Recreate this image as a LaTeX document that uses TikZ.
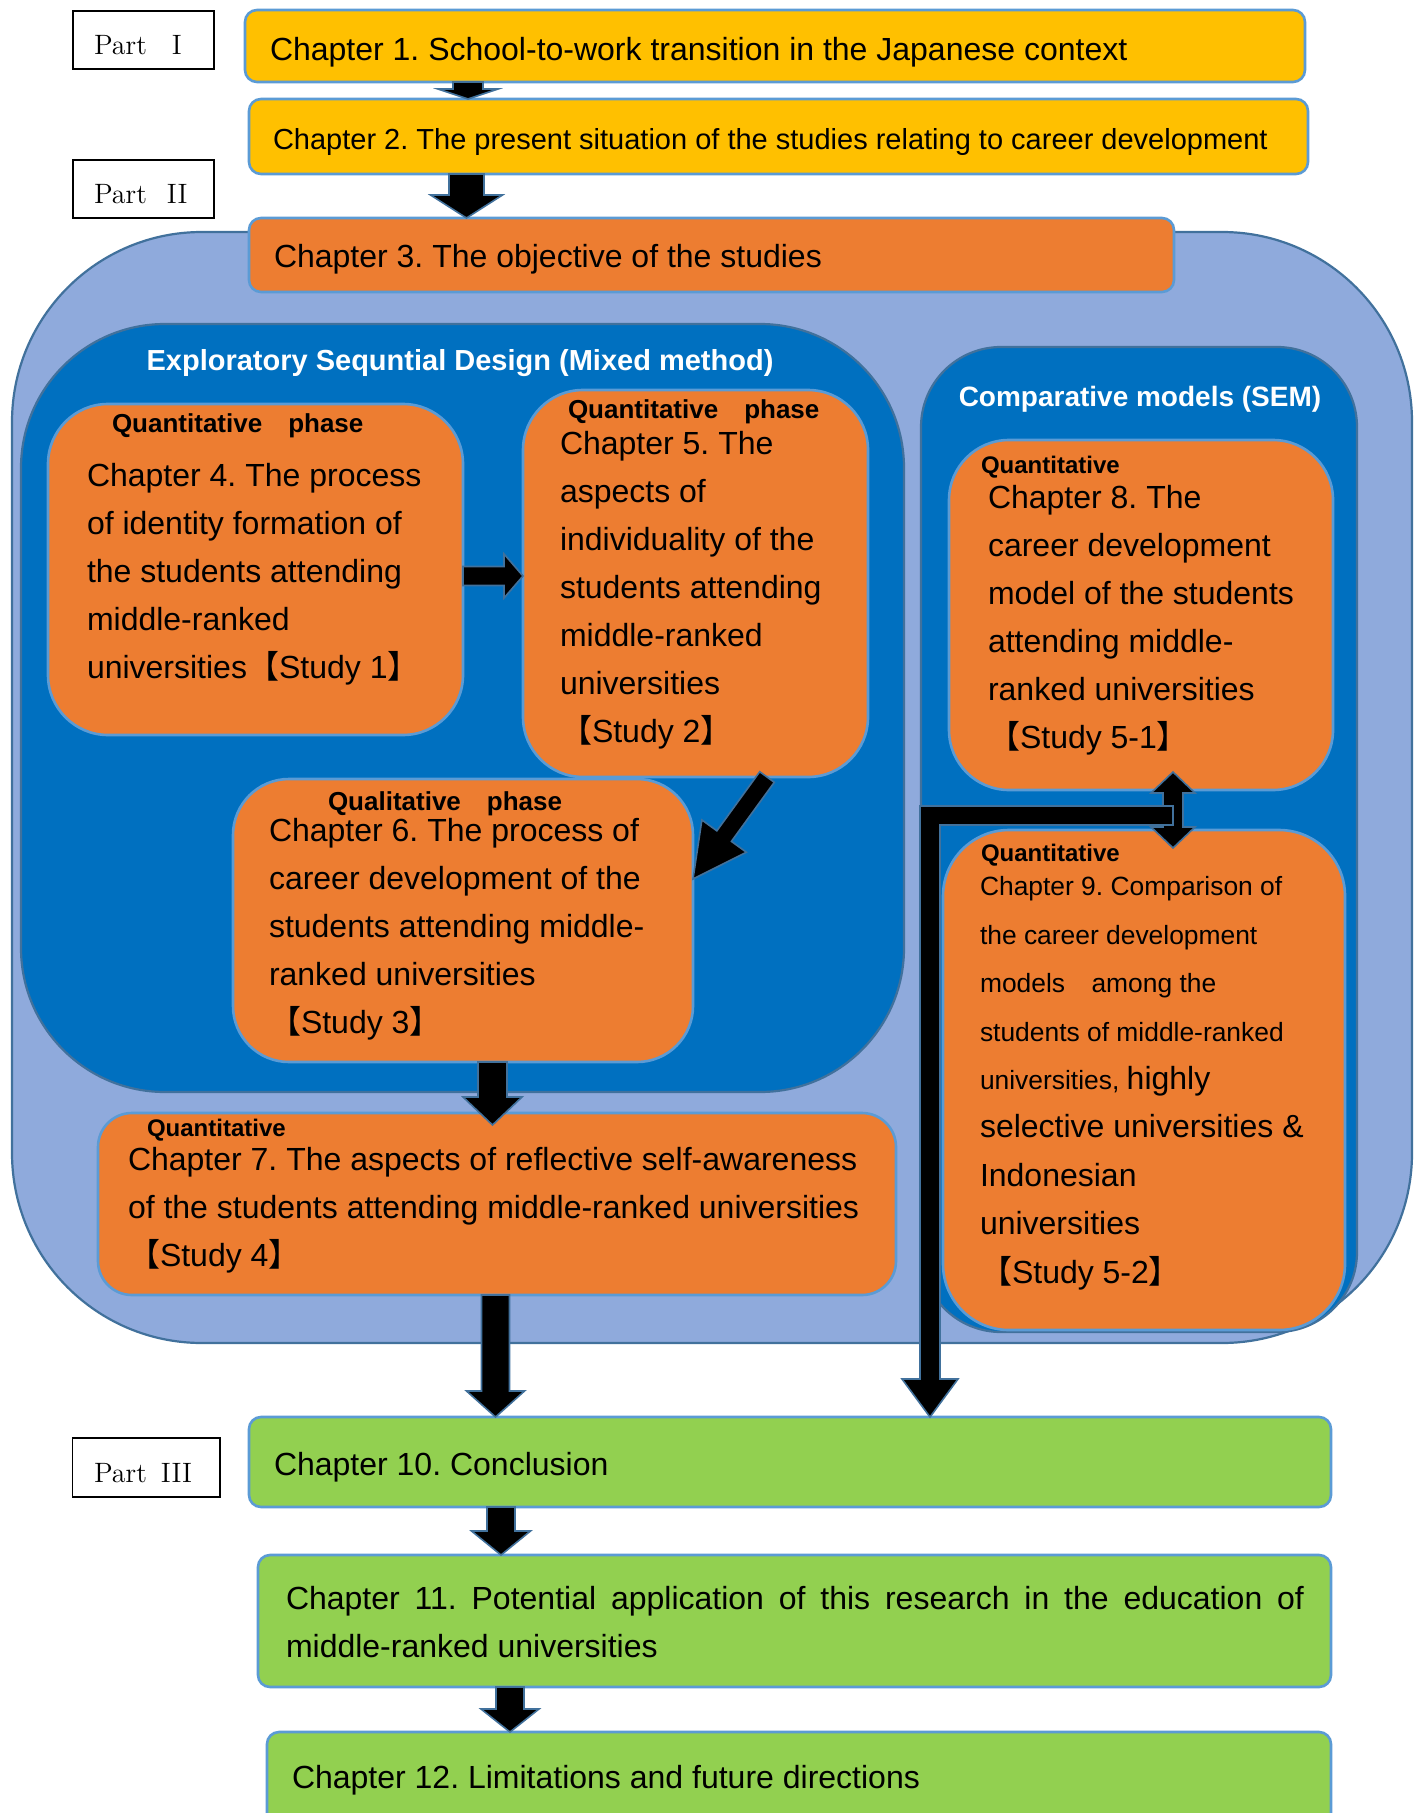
\documentclass[tikz,border=0pt]{standalone}
\usepackage{fontspec}
\newfontfamily\arial{Liberation Sans}
\newfontfamily\cjk{Noto Sans CJK JP}
\usetikzlibrary{calc}
\frenchspacing
\definecolor{cyel}{HTML}{FFC000}
\definecolor{corg}{HTML}{ED7D31}
\definecolor{cgrn}{HTML}{92D050}
\definecolor{cbord}{HTML}{5B9BD5}
\definecolor{cbg}{HTML}{8FAADC}
\definecolor{cdark}{HTML}{0070C0}
\definecolor{cedge}{HTML}{41719C}
\newcommand{\lbk}{{\cjk 【}}
\newcommand{\rbk}{{\cjk 】}}
\newcommand{\fs}[2]{\fontsize{#1pt}{#2pt}\selectfont}
% box node: name, x1, y1, x2, y2, radius(pt), style
\newcommand{\boxnode}[7]{%
  \node[#7, rounded corners=#6pt, minimum width={(#4-#2)*0.5pt}, minimum height={(#5-#3)*0.5pt}] (#1) at ({(#2+#4)/2},{(#3+#5)/2}) {};}
% block arrow: start, tip, shaft half width, head half width, head length
\newcommand{\barrow}[5]{%
  \coordinate (S) at #1; \coordinate (T) at #2;
  \coordinate (B) at ($(T)!#5!(S)$);
  \draw[arr] ($(S)!#3!90:(T)$) -- ($(B)!#3!90:(T)$) -- ($(B)!#4!90:(T)$) -- (T) -- ($(B)!#4!-90:(T)$) -- ($(B)!#3!-90:(T)$) -- ($(S)!#3!-90:(T)$) -- cycle;}
% double block arrow: tip1, tip2, shaft half, head half, head length
\newcommand{\dbarrow}[5]{%
  \coordinate (S) at #1; \coordinate (T) at #2;
  \coordinate (B1) at ($(S)!#5!(T)$); \coordinate (B2) at ($(T)!#5!(S)$);
  \draw[arr] (S) -- ($(B1)!#4!90:(T)$) -- ($(B1)!#3!90:(T)$) -- ($(B2)!#3!90:(T)$) -- ($(B2)!#4!90:(T)$) -- (T) -- ($(B2)!#4!-90:(T)$) -- ($(B2)!#3!-90:(T)$) -- ($(B1)!#3!-90:(T)$) -- ($(B1)!#4!-90:(T)$) -- cycle;}
\begin{document}
\begin{tikzpicture}[x=0.5pt,y=-0.5pt,
  box/.style={draw=cbord, line width=1.3pt, inner sep=0pt, outer sep=0pt},
  partbox/.style={draw=black, line width=0.8pt, fill=white, inner sep=0pt, outer sep=0pt},
  cont/.style={draw=cedge, line width=1.1pt, inner sep=0pt, outer sep=0pt},
  txt/.style={anchor=base west, inner sep=0pt, outer sep=0pt, align=left, text=black},
  body/.style={txt, font=\arial\fs{16}{24}},
  lab/.style={txt, font=\arial\bfseries\fs{13}{16}},
  labs/.style={txt, font=\arial\bfseries\fs{12}{15}},
  ttl/.style={anchor=base, inner sep=0pt, text=white},
  arr/.style={fill=black, draw=cedge, line width=0.8pt, line join=miter},
]
\useasboundingbox (0,0) rectangle (1422,1813);
\fill[white] (0,0) rectangle (1422,1813);

% containers
\boxnode{bg}{12}{232}{1412}{1343}{95}{cont, fill=cbg}
\boxnode{expl}{21}{324}{904}{1092}{72}{cont, fill=cdark}
\boxnode{comp}{921}{347}{1357}{1332}{40}{cont, fill=cdark}
\node[ttl, font=\arial\bfseries\fs{14.5}{18}] (explt) at (460,371) {Exploratory Sequntial Design (Mixed method)};
\node[ttl, font=\arial\bfseries\fs{14}{18}] (compt) at (1140,406) {Comparative models (SEM)};

% part labels
\boxnode{p1}{73}{11}{214}{69}{0}{partbox}
\boxnode{p2}{73}{160}{214}{218}{0}{partbox}
\boxnode{p3}{72.5}{1438}{220}{1497}{0}{partbox}
\node[txt, font=\fs{14}{16}] (p1t) at (94,55) {Part\hspace{12.5pt}I};
\node[txt, font=\fs{14}{16}] (p2t) at (94,204) {Part\hspace{10pt}II};
\node[txt, font=\fs{14}{16}] (p3t) at (94,1482) {Part\hspace{7pt}III};

% chapter boxes
\boxnode{ch1}{245}{10}{1305}{82}{6}{box, fill=cyel}
\boxnode{ch2}{249}{99}{1308}{174}{6}{box, fill=cyel}
\boxnode{ch3}{249}{218}{1174}{292}{6}{box, fill=corg}
\boxnode{ch4}{48}{404}{463}{735}{30}{box, fill=corg}
\boxnode{ch5}{523}{390}{868}{777}{30}{box, fill=corg}
\boxnode{ch6}{233}{779}{693}{1062}{28}{box, fill=corg}
\boxnode{ch7}{98}{1113}{896}{1295}{17}{box, fill=corg}
\boxnode{ch8}{949}{440}{1333}{790}{30}{box, fill=corg}
\boxnode{ch9}{943}{830}{1345}{1330}{33}{box, fill=corg}
\boxnode{ch10}{249}{1417}{1331}{1507}{6}{box, fill=cgrn}
\boxnode{ch11}{258}{1555}{1331}{1687}{6}{box, fill=cgrn}
\boxnode{ch12}{267}{1732}{1331}{1850}{6}{box, fill=cgrn}

% texts (multi-line nodes: base = baseline of last line)
\node[body] (ch1t) at (270,61) {Chapter 1. School-to-work transition in the Japanese context};
\node[txt, font=\arial\fs{14.5}{18}] (ch2t) at (273,150) {Chapter 2. The present situation of the studies relating to career development};
\node[body] (ch3t) at (274,268) {Chapter 3. The objective of the studies};

\node[lab] (ch4l) at (112,432) {Quantitative\hspace{1em}phase};
\node[body] (ch4t) at (87,678) {Chapter 4. The process\\of identity formation of\\the students attending\\middle-ranked\\universities\lbk Study 1\rbk};

\node[lab] (ch5l) at (568,418) {Quantitative\hspace{1em}phase};
\node[body] (ch5t) at (560,742) {Chapter 5. The\\aspects of\\individuality of the\\students attending\\middle-ranked\\universities\\\lbk Study 2\rbk};

\node[lab] (ch6l) at (328,810) {Qualitative\hspace{1em}phase};
\node[body] (ch6t) at (269,1033) {Chapter 6. The process of\\career development of the\\students attending middle-\\ranked universities\\\lbk Study 3\rbk};

\node[labs] (ch7l) at (147,1136) {Quantitative};
\node[body] (ch7t) at (128,1266) {Chapter 7. The aspects of reflective self-awareness\\of the students attending middle-ranked universities\\\lbk Study 4\rbk};

\node[labs] (ch8l) at (981,473) {Quantitative};
\node[body] (ch8t) at (988,748) {Chapter 8. The\\career development\\model of the students\\attending middle-\\ranked universities\\\lbk Study 5-1\rbk};

\node[labs] (ch9l) at (981,861) {Quantitative};
\node[txt, font=\arial\fs{13.2}{24.2}] (ch9t) at (980,1283) {Chapter 9. Comparison of\\the career development\\models\hspace{1em}among the\\students of middle-ranked\\universities, {\fs{16}{24.2}highly}\\{\fs{16}{24.2}selective universities \&}\\{\fs{16}{24.2}Indonesian}\\{\fs{16}{24.2}universities}\\{\fs{16}{24.2}\lbk Study 5-2\rbk}};

\node[body] (ch10t) at (274,1475) {Chapter 10. Conclusion};
\node[body, text width=509pt, align=justify] (ch11t) at (286,1609) {Chapter 11. Potential application of this research in the education of middle-ranked universities};
\node[body] (ch12t) at (292,1788) {Chapter 12. Limitations and future directions};

% arrows
\coordinate (x12) at (468,0);
\barrow{(ch1.south -| x12)}{(ch2.north -| x12)}{7.5pt}{15pt}{5pt}
\coordinate (x23) at (466.5,0);
\barrow{(ch2.south -| x23)}{(ch3.north -| x23)}{8.75pt}{18pt}{11.5pt}
\coordinate (y45) at (0,576);
\barrow{(ch4.east |- y45)}{(ch5.west |- y45)}{4.75pt}{11pt}{9.5pt}
\coordinate (x56) at (767,0);
\coordinate (y56) at (0,879);
\barrow{(ch5.south -| x56)}{(ch6.east |- y56)}{4.5pt}{13.75pt}{26.5pt}
\coordinate (x67) at (492.5,0);
\barrow{(ch6.south -| x67)}{($(ch7.north -| x67)+(0,12)$)}{7.25pt}{14.75pt}{14pt}
\coordinate (x710) at (495.5,0);
\barrow{(ch7.south -| x710)}{(ch10.north -| x710)}{7pt}{14.5pt}{13pt}
\coordinate (x1011) at (501,0);
\barrow{(ch10.south -| x1011)}{(ch11.north -| x1011)}{7pt}{14.75pt}{12pt}
\coordinate (x1112) at (510,0);
\barrow{(ch11.south -| x1112)}{(ch12.north -| x1112)}{7pt}{14.5pt}{11.5pt}

% double arrow between chapter 8 and chapter 9
\coordinate (x89) at (1173,0);
\dbarrow{($(ch8.south -| x89)+(0,-18)$)}{($(ch9.north -| x89)+(0,18)$)}{5pt}{11pt}{10.5pt}

% elbow connector to chapter 10
\coordinate (elbR) at (1173,815.5);
\coordinate (elbC) at (930,815.5);
\coordinate (elbT) at (ch10.north -| elbC);
\draw[arr] ($(elbR)+(0,-9.5)$) -- ($(elbC)+(-10,-9.5)$) -- ($(elbT)+(-10,-38)$) -- ($(elbT)+(-28,-38)$) -- (elbT) -- ($(elbT)+(28,-38)$) -- ($(elbT)+(10,-38)$) -- ($(elbC)+(10,9.5)$) -- ($(elbR)+(0,9.5)$) -- cycle;
\end{tikzpicture}
\end{document}
